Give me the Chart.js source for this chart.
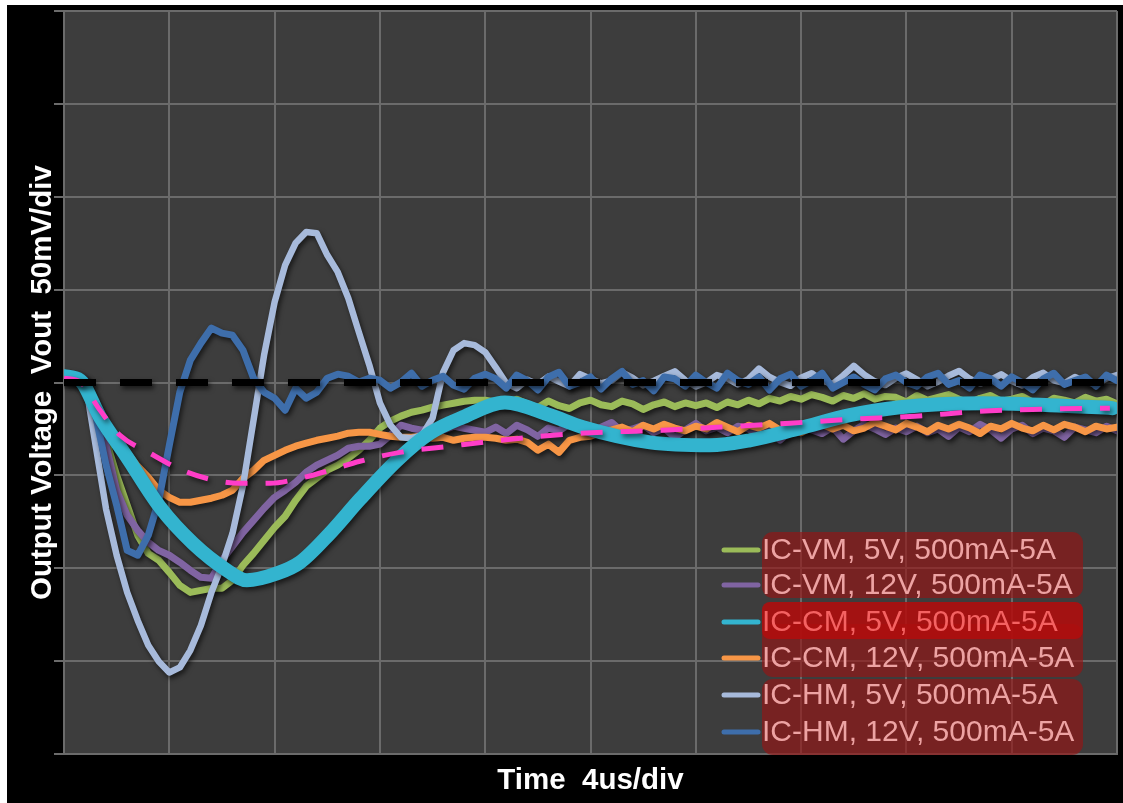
<!DOCTYPE html>
<html>
<head>
<meta charset="utf-8">
<script src="https://cdn.jsdelivr.net/npm/chart.js@4.4.1/dist/chart.umd.min.js"></script>
<style>
  html, body { margin: 0; padding: 0; background: #ffffff; }
  #frame { position: absolute; left: 7px; top: 5px; width: 1116px; height: 798px; background: #000000; }
  canvas { display: block; }
</style>
</head>
<body>
<div id="frame"><canvas id="scope" width="1116" height="798"></canvas></div>
<script>
// Sample times of the captured traces, in microseconds (0.4 us spacing, 10 divisions of 4 us)
const timeUs = Array.from({ length: 101 }, (_, i) => Math.round(i * 4) / 10);

// Output voltage deviation in mV for each controller / input voltage, 500mA -> 5A load step
const vmAt5V = [
  3.4, 3.4, -1.5, -15.0, -31.1, -49.9, -66.1, -82.3, -92.0, -95.7,
  -102.2, -109.2, -113.0, -111.9, -110.8, -110.8, -106.5, -98.4, -92.0, -85.0,
  -78.0, -72.0, -63.4, -55.9, -51.5, -47.2, -44.5, -40.8, -36.5, -31.1,
  -24.6, -20.8, -18.1, -16.0, -14.9, -13.3, -12.2, -11.2, -10.1, -9.5,
  -9.5,
  -10.5, -12.0, -9.0, -11.5, -13.5, -10.0, -12.5, -14.0, -11.0, -9.5,
  -12.0, -13.0, -10.0, -11.5, -14.5, -12.0, -10.5, -13.0, -11.0, -12.5,
  -11.0, -13.5, -10.5, -12.0, -9.5, -11.5, -8.5, -10.0, -7.5, -9.0,
  -6.5, -8.0, -10.0, -7.0, -8.5, -6.0, -9.0, -7.5, -8.0, -10.5,
  -7.0, -9.5, -8.0, -6.5, -9.0, -11.0, -8.5, -7.0, -10.0, -9.0,
  -7.5, -10.5, -12.0, -8.5, -9.5, -11.0, -8.0, -10.0, -9.0, -11.5
];
const vmAt12V = [
  3.4, 3.4, -0.4, -15.0, -33.8, -58.0, -71.5, -79.6, -86.0, -90.4,
  -93.0, -96.8, -101.1, -104.9, -105.4, -95.7, -88.2, -80.7, -74.2, -67.7,
  -61.8, -58.0, -53.7, -48.3, -44.5, -41.8, -39.1, -35.4, -34.3, -34.3,
  -33.2, -28.4, -23.0, -24.6, -25.7, -24.1, -25.7, -23.5, -24.6, -25.7,
  -26.8,
  -24.0, -27.5, -23.0, -25.5, -29.0, -24.5, -26.0, -22.5, -25.0, -28.0,
  -24.0, -21.5, -26.5, -25.0, -23.0, -27.0, -24.5, -29.5, -25.5, -22.0,
  -26.0, -24.0, -27.0, -23.5, -25.0, -28.5, -24.5, -31.0, -26.0, -23.0,
  -25.5, -27.5, -24.0, -30.5, -26.0, -22.5, -25.0, -28.0, -24.5, -26.5,
  -23.5, -27.0, -25.0, -29.0, -24.0, -26.5, -22.5, -25.5, -30.0, -25.0,
  -23.0, -27.5, -24.5, -26.0, -29.5, -24.0, -25.5, -27.0, -23.5, -26.0
];
const cmAt12V = [
  3.4, 3.4, -1.5, -12.2, -24.6, -31.1, -37.6, -45.1, -51.0, -58.0,
  -61.8, -64.5, -64.5, -63.4, -62.3, -60.7, -58.0, -51.6, -47.3, -41.9,
  -39.2, -36.5, -34.3, -32.7, -31.1, -30.0, -28.9, -27.3, -26.8, -26.8,
  -27.9, -28.9, -29.5, -29.5, -28.9, -30.0, -29.5, -31.1, -30.0, -29.5,
  -29.5, -30.0, -31.1, -30.5, -32.2, -36.5, -33.2, -37.6, -31.1, -29.5,
  -28.9,
  -27.0, -25.5, -24.0, -26.5, -23.0, -25.0, -22.5, -24.5, -26.0, -23.5,
  -25.0, -21.5, -24.0, -26.5, -23.0, -24.5, -22.0, -25.5, -23.5, -27.0,
  -24.0, -22.5, -25.0, -23.0, -26.0, -24.5, -21.5, -23.5, -25.5, -22.0,
  -24.0, -26.5, -23.0, -25.0, -22.5, -24.5, -27.5, -23.5, -25.0, -22.0,
  -24.5, -26.0, -23.0, -25.5, -22.5, -24.0, -26.5, -23.5, -25.0, -24.0
];
const hmAt5V = [
  3.4, 3.4, 1.2, -33.8, -68.3, -93.0, -113.0, -128.1, -141.5, -150.2,
  -156.1, -153.4, -144.2, -130.8, -113.0, -98.5, -81.2, -55.4, -20.3, 14.7,
  43.3, 63.2, 75.1, 81.0, 80.4, 68.6, 59.4, 45.4, 27.1, 9.3,
  -11.0, -22.9, -29.5, -30.0, -28.4, -19.2, 5.5, 17.4, 21.2, 20.1,
  16.3, 8.2, -0.4, -3.1,
  1.5, -1.0, 3.2, 0.5, -2.0, 4.5, 2.0, -0.5, 1.0, 5.5,
  2.5, -1.5, 0.8, 3.5, 6.0, 1.2, -2.2, 0.0, 4.0, 2.2,
  -1.0, 1.8, 7.5, 3.0, 0.2, -1.8, 2.6, 5.0, 1.0, -0.8,
  3.8, 9.0, 4.2, 0.6, -1.4, 2.4, 4.8, 1.6, -2.0, 0.4,
  3.6, 6.2, 2.0, -0.6, 1.4, 4.4, 0.8, -1.6, 2.8, 5.2,
  1.2, -0.4, 3.0, 0.6, -1.2, 2.2, 4.0
];
const hmAt12V = [
  3.4, 3.4, 1.2, -17.6, -44.6, -66.1, -90.4, -93.0, -82.3, -63.4,
  -33.8, -5.2, 12.0, 21.2, 29.3, 26.6, 25.5, 17.4, 2.3, -5.2,
  -8.5, -14.9, -3.1, -8.5, -5.2, 2.3, 4.5, 3.4, 0.2, 2.3,
  1.2, -3.1, 0.2, 5.0, -2.0, 1.2, 3.4, -1.5, -3.6, 2.3,
  4.5,
  2.0, -3.0, 4.0, 1.0, -4.0, 3.0, 5.5, -2.0, 0.0, 3.0,
  -3.5, 2.0, 6.0, -1.0, 1.0, -4.5, 3.0, 2.0, -2.0, 4.0,
  0.0, -3.0, 5.0, 1.0, -1.0, 3.0, -4.0, 2.0, 4.5, -2.0,
  1.0, 5.0, -3.0, 0.0, 3.0, -1.0, -4.0, 2.0, 4.0, 0.0,
  -2.0, 3.0, 5.0, -1.0, 1.0, -3.0, 4.0, 2.0, -2.0, 3.0,
  0.0, -4.0, 2.0, 5.0, -1.0, 1.0, 3.0, -2.0, 4.0, 1.0
];

// Smooth CM 5V response (thick trace) and the dashed target envelope
const cmAt5VTime = [0, 0.61, 1.37, 2.39, 3.65, 4.90, 6.19, 6.95, 8.09, 8.96, 10.10, 11.24, 12.65, 13.90, 15.15, 16.75, 18.46, 19.71, 22.26, 24.53, 26.05, 27.95, 29.85, 31.75, 34.90, 37.45, 39.84];
const cmAt5V     = [3.4, 1.2, -18.7, -40.2, -67.2, -86.6, -101.1, -106.5, -102.8, -96.9, -81.2, -62.9, -41.9, -27.3, -18.7, -10.7, -17.6, -24.1, -32.2, -33.8, -31.1, -24.6, -17.6, -13.3, -11.2, -12.2, -13.8];
const envelopeTime = [0, 0.61, 1.37, 2.13, 3.27, 4.41, 5.55, 6.68, 7.82, 8.96, 10.10, 11.24, 12.76, 14.66, 16.56, 19.60, 22.75, 24.80, 27.57, 29.85, 32.32, 34.79, 37.07, 39.73];
const envelope     = [2.3, 0.2, -15.0, -28.4, -38.1, -46.7, -52.1, -54.3, -54.3, -51.6, -47.3, -42.4, -37.6, -34.3, -31.1, -27.3, -25.7, -24.1, -21.9, -19.8, -18.2, -15.5, -14.4, -13.8];

// Nominal output level
const nominalTime = [0, 40];
const nominal = [0, 0];

const seriesLabels = [
  'IC-VM, 5V, 500mA-5A', 'IC-VM, 12V, 500mA-5A',
  'IC-CM, 5V, 500mA-5A', 'IC-CM, 12V, 500mA-5A',
  'IC-HM, 5V, 500mA-5A', 'IC-HM, 12V, 500mA-5A'
];
const seriesColors = ['#9bbb59', '#8064a2', '#33b4cf', '#f79646', '#a7badb', '#3e6eab'];

const xTicks = { min: 0, max: 40, step: 4 };    // 4 us/div
const yTicks = { min: -200, max: 200, step: 50 }; // 50 mV/div

const toPoints = (xs, ys) => ys.map((v, i) => ({ x: xs[i], y: v }));

const GRID = '#6b6b6b';
const FONT = '"Liberation Sans", Arial, sans-serif';

function trace(label, xs, ys, color, width, order, extra) {
  return Object.assign({
    label, data: toPoints(xs, ys), borderColor: color, backgroundColor: color,
    borderWidth: width, pointRadius: 0, tension: 0, fill: false, order,
    borderJoinStyle: 'round', borderCapStyle: 'round'
  }, extra || {});
}

const datasets = [
  trace(seriesLabels[0], timeUs, vmAt5V, seriesColors[0], 7, 7),
  trace(seriesLabels[1], timeUs, vmAt12V, seriesColors[1], 7, 6),
  trace(seriesLabels[2], cmAt5VTime, cmAt5V, seriesColors[2], 14, 2, { cubicInterpolationMode: 'monotone' }),
  trace(seriesLabels[3], timeUs, cmAt12V, seriesColors[3], 7, 5),
  trace(seriesLabels[4], timeUs, hmAt5V, seriesColors[4], 6.5, 4),
  trace(seriesLabels[5], timeUs, hmAt12V, seriesColors[5], 7, 3),
  trace('envelope', envelopeTime, envelope, '#ff3dc8', 5, 1, { cubicInterpolationMode: 'monotone', borderDash: [22, 18], borderCapStyle: 'butt', inLegend: false }),
  trace('nominal', nominalTime, nominal, '#000000', 7, 0, { borderDash: [32, 24], borderCapStyle: 'butt', inLegend: false })
];

// Dark plotting field behind the grid
const plotField = {
  id: 'plotField',
  beforeDraw(chart) {
    const { ctx, chartArea: a } = chart;
    ctx.save();
    ctx.fillStyle = '#3d3d3d';
    ctx.fillRect(a.left, a.top, a.right - a.left, a.bottom - a.top);
    ctx.restore();
  }
};

// Soft drop shadow under every trace
const traceShadow = {
  id: 'traceShadow',
  beforeDatasetDraw(chart) {
    const ctx = chart.ctx;
    ctx.save();
    ctx.shadowColor = 'rgba(0,0,0,0.6)';
    ctx.shadowBlur = 5;
    ctx.shadowOffsetX = 2;
    ctx.shadowOffsetY = 3;
  },
  afterDatasetDraw(chart) { chart.ctx.restore(); }
};

function roundBox(ctx, x, y, w, h, r) {
  ctx.beginPath();
  ctx.moveTo(x + r, y);
  ctx.lineTo(x + w - r, y);
  ctx.arcTo(x + w, y, x + w, y + r, r);
  ctx.lineTo(x + w, y + h - r);
  ctx.arcTo(x + w, y + h, x + w - r, y + h, r);
  ctx.lineTo(x + r, y + h);
  ctx.arcTo(x, y + h, x, y + h - r, r);
  ctx.lineTo(x, y + r);
  ctx.arcTo(x, y, x + r, y, r);
  ctx.closePath();
}

// Legend panel in the lower right of the plot, with highlighted label boxes
const boxedLegend = {
  id: 'boxedLegend',
  afterDraw(chart) {
    const { ctx, chartArea: a } = chart;
    const boxL = a.right - 355, boxW = 321;
    const rowY = [a.bottom - 204, a.bottom - 169, a.bottom - 132, a.bottom - 96, a.bottom - 59, a.bottom - 22];
    const dark = 'rgba(150,20,20,0.65)';
    ctx.save();
    ctx.fillStyle = dark;
    roundBox(ctx, boxL, a.bottom - 222, boxW, 66, 11); ctx.fill();
    roundBox(ctx, boxL, a.bottom - 130, boxW, 53, 11); ctx.fill();
    roundBox(ctx, boxL, a.bottom - 75, boxW, 76, 11); ctx.fill();
    ctx.fillStyle = 'rgba(178,12,12,0.88)';
    roundBox(ctx, boxL, a.bottom - 152, boxW, 37, 8); ctx.fill();

    const items = chart.data.datasets.filter(d => d.inLegend !== false);
    ctx.font = '30px ' + FONT;
    ctx.textBaseline = 'middle';
    ctx.textAlign = 'left';
    items.forEach((d, i) => {
      const y = rowY[i];
      ctx.strokeStyle = d.borderColor;
      ctx.lineWidth = 5;
      ctx.lineCap = 'round';
      ctx.beginPath();
      ctx.moveTo(a.right - 393, y);
      ctx.lineTo(a.right - 359, y);
      ctx.stroke();
      ctx.fillStyle = i === 2 ? '#f46262' : '#eda3a3';
      ctx.fillText(d.label, boxL, y + 1);
    });
    ctx.restore();
  }
};

new Chart(document.getElementById('scope'), {
  type: 'line',
  data: { datasets },
  plugins: [plotField, traceShadow, boxedLegend],
  options: {
    responsive: false,
    animation: false,
    events: [],
    layout: { padding: { top: 6, right: 6, bottom: 0, left: 0 } },
    plugins: { legend: { display: false }, tooltip: { enabled: false } },
    scales: {
      x: {
        type: 'linear', min: xTicks.min, max: xTicks.max,
        ticks: { display: false, stepSize: xTicks.step },
        grid: { color: GRID, lineWidth: 2, drawTicks: false },
        border: { color: GRID, width: 2 },
        title: { display: true, text: 'Time  4us/div', color: '#ffffff',
                 font: { family: FONT, size: 29.5, weight: 'bold' }, padding: { top: 0, bottom: 4 } },
        afterFit(scale) { scale.height = 49; }
      },
      y: {
        type: 'linear', min: yTicks.min, max: yTicks.max,
        ticks: { display: false, stepSize: yTicks.step },
        grid: { color: GRID, lineWidth: 2, drawTicks: true, tickLength: 10 },
        border: { color: GRID, width: 2 },
        title: { display: true, text: 'Output Voltage  Vout  50mV/div', color: '#ffffff',
                 font: { family: FONT, size: 29.5, weight: 'bold' }, padding: { top: 18, bottom: 0 } },
        afterFit(scale) { scale.width = 57; }
      }
    }
  }
});
</script>
</body>
</html>
